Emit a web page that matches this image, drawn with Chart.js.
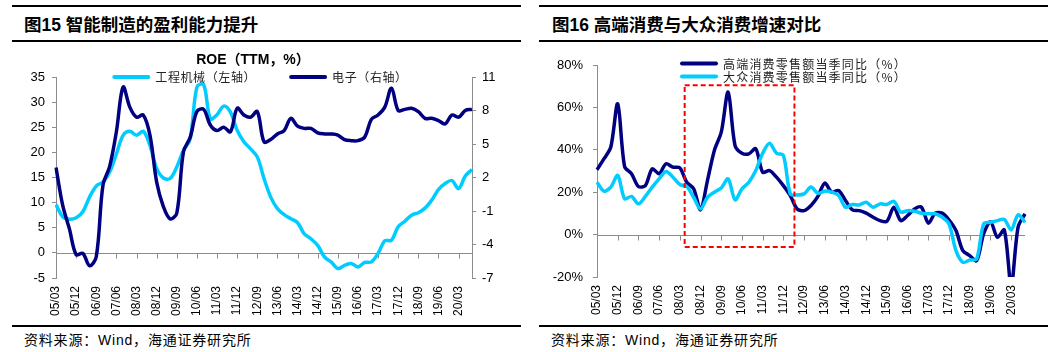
<!DOCTYPE html>
<html><head><meta charset="utf-8">
<script src="https://cdn.jsdelivr.net/npm/chart.js@4/dist/chart.umd.min.js"></script>
<style>
html,body{margin:0;padding:0;background:#fff;width:1057px;height:352px;overflow:hidden;position:relative;font-family:"Liberation Sans","Noto Sans CJK SC",sans-serif}
.rule{position:absolute;height:1.5px;background:#000}
.title{position:absolute;font-family:"Liberation Sans","Noto Sans CJK SC",sans-serif;font-weight:bold;font-size:17.5px;line-height:20px;white-space:nowrap;color:#000}
.ctitle{position:absolute;font-family:"Liberation Sans","Noto Sans CJK SC",sans-serif;font-weight:bold;font-size:14px;line-height:18px;white-space:nowrap;color:#000;text-align:center}
.src{position:absolute;font-family:"Liberation Sans","Noto Sans CJK SC",sans-serif;font-size:14px;letter-spacing:0.8px;line-height:18px;white-space:nowrap;color:#000}
.cw{position:absolute}
</style>
</head><body>
<div class="rule" style="left:12px;top:5px;width:509px"></div>
<div class="rule" style="left:12px;top:40px;width:509px"></div>
<div class="rule" style="left:12px;top:325px;width:509px"></div>
<div class="rule" style="left:539px;top:5px;width:509px"></div>
<div class="rule" style="left:539px;top:40px;width:509px"></div>
<div class="rule" style="left:539px;top:325px;width:509px"></div>
<div class="title" style="left:24px;top:15px">图15 智能制造的盈利能力提升</div>
<div class="title" style="left:552px;top:15px">图16 高端消费与大众消费增速对比</div>
<div class="src" style="left:24px;top:331px">资料来源：Wind，海通证券研究所</div>
<div class="src" style="left:551px;top:331px">资料来源：Wind，海通证券研究所</div>
<div class="cw" style="left:0;top:44px;width:530px;height:282px"><canvas id="c1" width="530" height="282"></canvas></div>
<div class="cw" style="left:530px;top:44px;width:527px;height:282px"><canvas id="c2" width="527" height="282"></canvas></div>
<div class="ctitle" style="left:153px;top:50px;width:200px">ROE（TTM，%）</div>
<script>
// ---------- data ----------
const quarters = ['05/03','05/06','05/09','05/12','06/03','06/06','06/09','06/12','07/03','07/06','07/09','07/12','08/03','08/06','08/09','08/12','09/03','09/06','09/09','09/12','10/03','10/06','10/09','10/12','11/03','11/06','11/09','11/12','12/03','12/06','12/09','12/12','13/03','13/06','13/09','13/12','14/03','14/06','14/09','14/12','15/03','15/06','15/09','15/12','16/03','16/06','16/09','16/12','17/03','17/06','17/09','17/12','18/03','18/06','18/09','18/12','19/03','19/06','19/09','19/12','20/03','20/06','20/09'];

// 图15: ROE (TTM, %)
const machineryROE = [9.6,7.2,6.7,7.0,8.2,11.1,13.3,14.1,16.1,19.7,23.4,24.2,23.4,24.2,21.4,16.8,14.9,14.8,17.1,20.4,22.7,33.0,33.5,26.7,27.5,29.2,28.0,24.4,22.1,20.7,19.1,14.8,11.1,8.8,7.6,6.8,6.0,3.8,2.8,1.5,-0.8,-1.8,-3.1,-2.5,-2.1,-2.8,-1.9,-1.8,-0.1,2.4,2.5,5.2,6.3,7.5,8.0,8.9,10.5,12.6,13.8,14.4,12.8,15.3,16.6];
const electronicsROE = [2.9,-0.5,-2.6,-4.9,-4.8,-5.9,-5.1,1.3,3.0,6.1,10.1,8.3,7.4,7.6,5.8,1.6,-0.6,-1.7,-1.2,4.3,5.6,7.9,8.1,6.7,6.2,6.5,6.1,8.2,7.6,7.4,7.9,5.2,5.4,5.9,6.2,7.3,6.6,6.4,6.4,6.0,5.9,5.9,5.8,5.4,5.3,5.3,5.6,7.2,7.6,8.3,10.0,8.0,8.1,8.2,7.9,7.3,7.3,7.1,6.8,7.6,7.4,8.0,8.1];
const leftTicks = {min:-5, max:35, step:5};
const rightTicks = {min:-7, max:11, step:3};

// 图16: 当季同比 (%)
const highEndYoY = [30.6,35.7,41.3,61.7,32.1,28.7,22.7,23.1,31.0,28.7,33.4,31.8,31.5,24.7,21.6,11.7,25.5,39.7,48.3,67.2,42.0,38.4,38.1,40.5,29.4,30.2,27.1,23.1,18.4,12.1,11.3,13.7,18.0,24.3,20.0,20.8,16.1,11.7,11.3,10.1,8.2,6.6,6.3,12.9,6.6,9.0,12.1,12.9,5.4,10.1,10.1,6.9,1.9,-7.6,-9.9,-12.3,0.3,6.1,-1.3,2.2,-24,3.5,9.8];
const massYoY = [24.7,20.5,22.4,27.9,16.9,18.0,14.5,18.0,22.4,26.3,29.8,27.1,23.6,22.7,17.6,12.1,17.6,20.0,22.0,26.3,16.4,21.6,24.7,30.2,38.4,43.1,38.4,37.3,19.2,18.7,19.2,22.4,19.5,20.5,20.0,18.4,12.9,14.2,14.0,15.3,12.9,14.5,14.2,15.7,10.6,11.3,11.0,10.1,9.8,9.8,8.2,5.0,-7.6,-13.1,-12.0,-11.5,5.0,5.8,6.6,7.2,2.2,9.4,5.8];
const pctTicks = {min:-20, max:80, step:20};
const highlightRange = {fromIndex:12.7, toIndex:28.6, top:70.4, bottom:-5.8};

// ---------- styles ----------
const DARK = '#000080', LIGHT = '#00CCFF', AXIS = '#8c8c8c';
Chart.defaults.font.family = '"Liberation Sans", Arial, sans-serif';
Chart.defaults.color = '#000';

const zeroAxis = {
  id: 'zeroAxis',
  beforeDatasetsDraw(chart, args, opts) {
    const {ctx, chartArea, scales} = chart;
    const ys = scales[opts.axis], xs = scales.x;
    const y0 = Math.round(ys.getPixelForValue(0)) + 0.5;
    ctx.save();
    ctx.strokeStyle = AXIS; ctx.lineWidth = 1;
    ctx.beginPath();
    ctx.moveTo(chartArea.left, y0); ctx.lineTo(chartArea.right, y0);
    for (let i = 0; i < chart.data.labels.length; i += opts.every) {
      const px = Math.round(xs.getPixelForValue(i)) + 0.5;
      ctx.moveTo(px, y0); ctx.lineTo(px, y0 + 5);
    }
    ctx.stroke();
    ctx.restore();
  }
};

const lineLegend = {
  id: 'lineLegend',
  afterDatasetsDraw(chart, args, opts) {
    const {ctx, chartArea} = chart;
    ctx.save();
    ctx.font = opts.font;
    ctx.letterSpacing = opts.letterSpacing;
    ctx.textBaseline = 'middle';
    ctx.textAlign = 'left';
    const items = chart.data.datasets.map(d => ({
      label: d.label, color: d.borderColor,
      w: opts.sample + opts.gap + ctx.measureText(d.label).width
    }));
    const draw = (it, x, y) => {
      ctx.strokeStyle = it.color; ctx.lineWidth = opts.sampleWidth; ctx.lineCap = 'round';
      ctx.beginPath(); ctx.moveTo(x + 2, y); ctx.lineTo(x + opts.sample - 2, y); ctx.stroke();
      ctx.fillStyle = opts.textColor;
      ctx.fillText(it.label, x + opts.sample + opts.gap, y + 0.5);
    };
    if (opts.layout === 'row') {
      const total = items.reduce((a, b) => a + b.w, 0) + opts.itemGap * (items.length - 1);
      let x = (chartArea.left + chartArea.right) / 2 - total / 2 + opts.dx;
      const y = chartArea.top + opts.dy;
      items.forEach(it => { draw(it, x, y); x += it.w + opts.itemGap; });
    } else {
      items.forEach((it, k) => draw(it, chartArea.left + opts.dx, chartArea.top + opts.dy + k * opts.rowH));
    }
    ctx.restore();
  }
};

const highlightBox = {
  id: 'highlightBox',
  afterDatasetsDraw(chart, args, opts) {
    if (!opts.range) return;
    const {ctx, scales: {x, y}} = chart;
    const r = opts.range;
    const x0 = x.getPixelForValue(r.fromIndex), x1 = x.getPixelForValue(r.toIndex);
    const y0 = y.getPixelForValue(r.top), y1 = y.getPixelForValue(r.bottom);
    ctx.save();
    ctx.strokeStyle = '#FF0000'; ctx.lineWidth = 2; ctx.setLineDash([5, 3]);
    ctx.strokeRect(x0, y0, x1 - x0, y1 - y0);
    ctx.restore();
  }
};

function xAxis(height) {
  return {
    type: 'category',
    grid: {display: false, drawTicks: false},
    border: {display: false},
    ticks: {
      autoSkip: false, minRotation: 90, maxRotation: 90, padding: 8,
      font: {size: 12}, color: '#000',
      callback: function (v, i) { return i % 3 === 0 ? this.getLabelForValue(v) : ''; }
    },
    afterFit: s => { s.height = height; }
  };
}
function yAxis(pos, t, width, fmt, pad) {
  return {
    type: 'linear', position: pos, min: t.min, max: t.max,
    ticks: {stepSize: t.step, padding: pad, font: {size: 13}, color: '#000', callback: fmt},
    grid: {display: true, drawOnChartArea: false, drawTicks: true, tickLength: 4, tickColor: AXIS},
    border: {display: true, color: AXIS, width: 1},
    afterFit: s => { s.width = width; }
  };
}
const legendBase = {font: '12px "Noto Sans CJK SC"', letterSpacing: '0.6px', sample: 38, gap: 5, sampleWidth: 4, textColor: '#222'};

new Chart(document.getElementById('c1'), {
  type: 'line',
  data: {
    labels: quarters,
    datasets: [
      {label: '工程机械（左轴）', data: machineryROE, yAxisID: 'y', borderColor: LIGHT, order: 1},
      {label: '电子（右轴）', data: electronicsROE, yAxisID: 'y1', borderColor: DARK, order: 0}
    ]
  },
  options: {
    responsive: false, animation: false, devicePixelRatio: 1,
    layout: {padding: {top: 33, left: 0, right: 0, bottom: 0}},
    elements: {line: {borderWidth: 3.5, tension: 0.35, fill: false}, point: {radius: 0}},
    scales: {
      x: xAxis(48),
      y: yAxis('left', leftTicks, 56, v => v, 7),
      y1: yAxis('right', rightTicks, 58, v => v, 6)
    },
    plugins: {
      legend: {display: false}, tooltip: {enabled: false},
      zeroAxis: {axis: 'y', every: 3},
      lineLegend: Object.assign({}, legendBase, {layout: 'row', dx: -4, dy: 0, itemGap: 33}),
      highlightBox: {}
    }
  },
  plugins: [zeroAxis, lineLegend, highlightBox]
});

new Chart(document.getElementById('c2'), {
  type: 'line',
  data: {
    labels: quarters,
    datasets: [
      {label: '高端消费零售额当季同比（%）', data: highEndYoY, borderColor: DARK, order: 1},
      {label: '大众消费零售额当季同比（%）', data: massYoY, borderColor: LIGHT, order: 0}
    ]
  },
  options: {
    responsive: false, animation: false, devicePixelRatio: 1,
    layout: {padding: {top: 21, left: 0, right: 32, bottom: 0}},
    elements: {line: {borderWidth: 3.5, tension: 0.3, fill: false}, point: {radius: 0}},
    scales: {
      x: xAxis(49),
      y: yAxis('left', pctTicks, 67, v => v + '%', 10)
    },
    plugins: {
      legend: {display: false}, tooltip: {enabled: false},
      zeroAxis: {axis: 'y', every: 3},
      lineLegend: Object.assign({}, legendBase, {layout: 'col', dx: 83, dy: -1.5, rowH: 13, letterSpacing: '1.2px'}),
      highlightBox: {range: highlightRange}
    }
  },
  plugins: [zeroAxis, lineLegend, highlightBox]
});
</script>
</body></html>
